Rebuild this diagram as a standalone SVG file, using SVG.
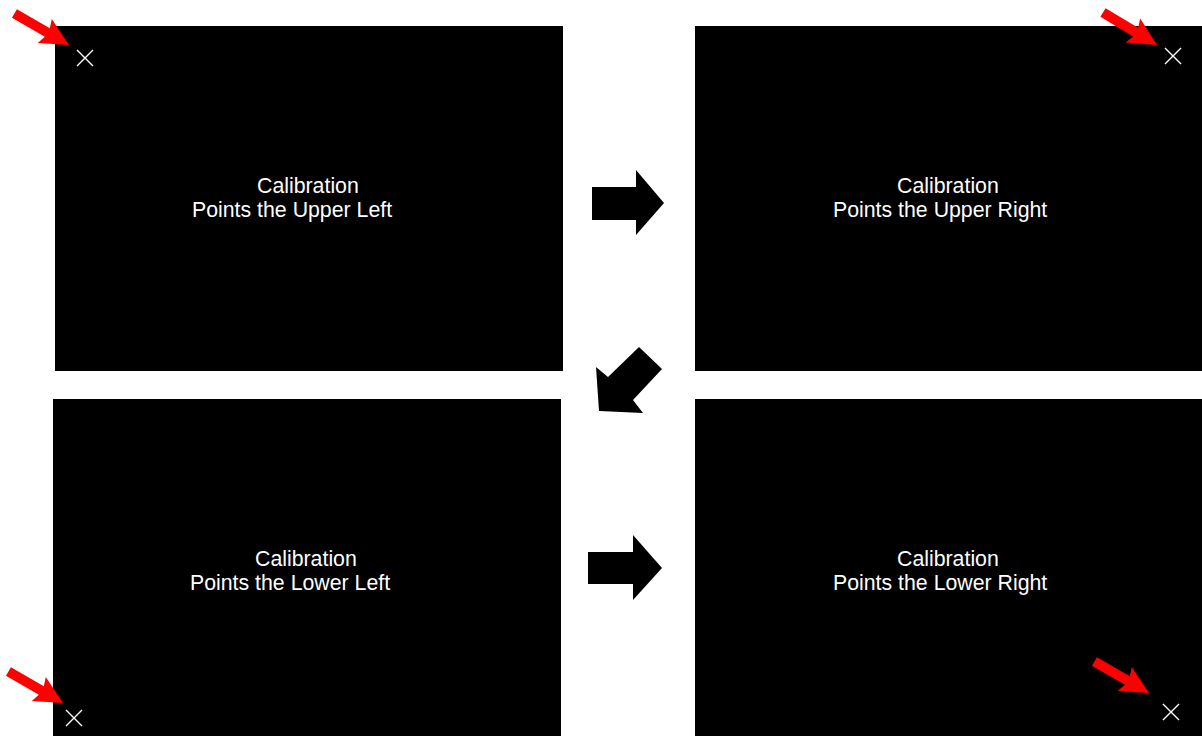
<svg xmlns="http://www.w3.org/2000/svg" width="1202" height="736" viewBox="0 0 1202 736">
<style>
.panel{fill:#000}
.lbl{fill:#fff;font-family:"Liberation Sans",Arial,sans-serif;font-size:21.3px}
.x{stroke:#fff;stroke-width:1.4;fill:none}
.red{fill:#f00}
.blk{fill:#000}
</style>
<defs>
<path id="redArrow" d="M0,0 L-28,-14 L-25,-5 L-63,-5 L-63,5 L-25,5 L-28,14 Z"/>
<g id="xmark"><path d="M-8,-8 L8,8 M8,-8 L-8,8"/></g>
</defs>
<rect width="1202" height="736" fill="#fff"/>
<g id="panel-upper-left">
<rect class="panel" x="55" y="26" width="508" height="345"/>
<use href="#xmark" class="x" x="85" y="58"/>
<text class="lbl" x="257" y="193">Calibration</text>
<text class="lbl" x="192" y="217">Points the Upper Left</text>
</g>
<g id="panel-upper-right">
<rect class="panel" x="695" y="26" width="507" height="345"/>
<use href="#xmark" class="x" x="1173" y="56"/>
<text class="lbl" x="897" y="193">Calibration</text>
<text class="lbl" x="833" y="217">Points the Upper Right</text>
</g>
<g id="panel-lower-left">
<rect class="panel" x="53" y="399" width="508" height="337"/>
<use href="#xmark" class="x" x="74" y="718"/>
<text class="lbl" x="255" y="566">Calibration</text>
<text class="lbl" x="190" y="590">Points the Lower Left</text>
</g>
<g id="panel-lower-right">
<rect class="panel" x="695" y="399" width="507" height="337"/>
<use href="#xmark" class="x" x="1171" y="712"/>
<text class="lbl" x="897" y="566">Calibration</text>
<text class="lbl" x="833" y="590">Points the Lower Right</text>
</g>
<g id="connectors">
<polygon class="blk" points="592,187 636,187 636,170 664,203 636,235 636,220 592,220"/>
<polygon class="blk" points="639,347 662,369 633,400 643,413 599,411 596,367 608,377"/>
<polygon class="blk" points="588,552 633,552 633,535 662,568 633,600 633,584 588,584"/>
<use href="#redArrow" class="red" transform="translate(69,45) rotate(30)"/>
<use href="#redArrow" class="red" transform="translate(1157,45) rotate(31)"/>
<use href="#redArrow" class="red" transform="translate(63,703) rotate(30)"/>
<use href="#redArrow" class="red" transform="translate(1149,693) rotate(30)"/>
</g>
</svg>
